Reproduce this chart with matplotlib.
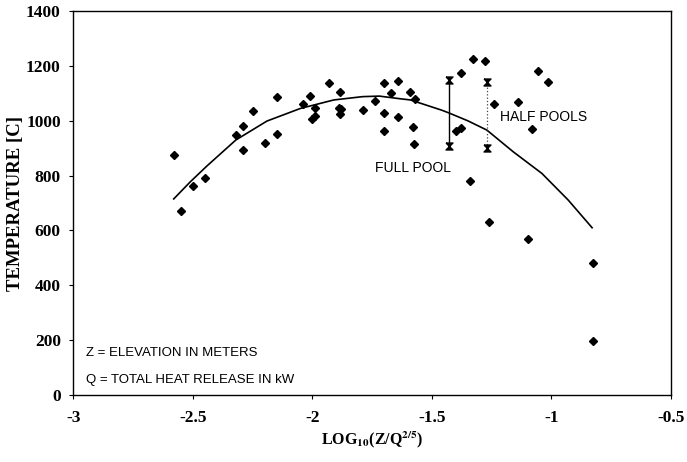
import numpy as np
import matplotlib
matplotlib.use("Agg")
import matplotlib.pyplot as plt

# measured points (log10(Z/Q^0.4), temperature C)
pts_x = [-2.58, -2.55, -2.50, -2.45, -2.32, -2.29, -2.29, -2.25, -2.20, -2.15,
         -2.15, -2.04, -2.01, -1.99, -1.99, -2.00, -1.93, -1.885, -1.89, -1.88,
         -1.885, -1.79, -1.74, -1.70, -1.67, -1.70, -1.70, -1.64, -1.64, -1.59,
         -1.57, -1.58, -1.575, -1.33, -1.38, -1.40, -1.38, -1.34, -1.28, -1.24,
         -1.14, -1.08, -1.055, -1.016, -1.26, -1.10, -0.825, -0.825]
pts_y = [877, 670, 762, 791, 949, 981, 893, 1037, 920, 950,
         1085, 1063, 1091, 1048, 1018, 1006, 1136, 1104, 1048, 1042,
         1023, 1039, 1072, 1139, 1102, 1027, 962, 1145, 1015, 1105,
         1080, 977, 916, 1224, 1173, 962, 972, 779, 1217, 1061,
         1067, 969, 1182, 1140, 632, 570, 482, 196]

# trend line
fit_x = [-2.58, -2.51, -2.44, -2.32, -2.19, -2.05, -1.91, -1.79, -1.72, -1.63,
         -1.59, -1.46, -1.43, -1.35, -1.27, -1.16, -1.04, -0.93, -0.83]
fit_y = [715, 778, 836, 930, 999, 1045, 1076, 1088, 1090, 1080,
         1076, 1039, 1029, 1000, 966, 887, 808, 711, 610]

# pool ranges
full_x, full_lo, full_hi = -1.428, 909, 1148
half_x, half_lo, half_hi = -1.270, 900, 1140

plt.rcParams['mathtext.fontset'] = 'stix'
serif = 'Liberation Serif'
sans = 'Liberation Sans'

fig = plt.figure(figsize=(6.87, 4.62), dpi=100)
ax = fig.add_axes([0.1067, 0.145, 0.87, 0.831])

ax.plot(fit_x, fit_y, color='black', lw=1.2, zorder=2)
ax.plot(pts_x, pts_y, 'D', color='black', markersize=3.8, ls='none', zorder=3)

hourglass = [(-1, 1), (1, 1), (-1, -1), (1, -1), (-1, 1)]
ax.plot([full_x, full_x], [full_lo, full_hi], color='black', lw=1.0,
        marker=hourglass, markersize=5, zorder=4)
ax.plot([half_x, half_x], [half_lo, half_hi], color='#444444', lw=0.9, ls=':',
        zorder=4)
ax.plot([half_x, half_x], [half_lo, half_hi], color='black', ls='none',
        marker=hourglass, markersize=5, zorder=4)

ax.text(-1.736, 828, 'FULL POOL', family=sans, fontsize=10, va='center')
ax.text(-1.215, 1013, 'HALF POOLS', family=sans, fontsize=10, va='center')
ax.text(-2.945, 153, 'Z = ELEVATION IN METERS', family=sans, fontsize=9.5,
        va='center')
ax.text(-2.945, 55, 'Q = TOTAL HEAT RELEASE IN kW', family=sans, fontsize=9.5,
        va='center')

ax.set_xlim(-3, -0.5)
ax.set_ylim(0, 1400)
ax.set_xticks(np.arange(-3, -0.49, 0.5))
ax.set_xticklabels(['-3', '-2.5', '-2', '-1.5', '-1', '-0.5'])
ax.set_yticks(np.arange(0, 1401, 200))
ax.tick_params(direction='out', length=3, width=0.8, pad=6)
ax.tick_params(axis='x', pad=8)
for lab in ax.get_xticklabels() + ax.get_yticklabels():
    lab.set_family(serif)
    lab.set_fontweight('bold')
    lab.set_fontsize(12.5)

ax.set_ylabel('TEMPERATURE [C]', family=serif, fontweight='bold', fontsize=13.5)
ax.yaxis.set_label_coords(-0.082, 0.5)
ax.set_xlabel(r'LOG$_{\mathbf{10}}$(Z/Q$^{\mathbf{2/5}}$)', family=serif,
              fontweight='bold', fontsize=11.5, labelpad=2)
for s in ax.spines.values():
    s.set_linewidth(1.0)

fig.savefig('out.png', dpi=100)
